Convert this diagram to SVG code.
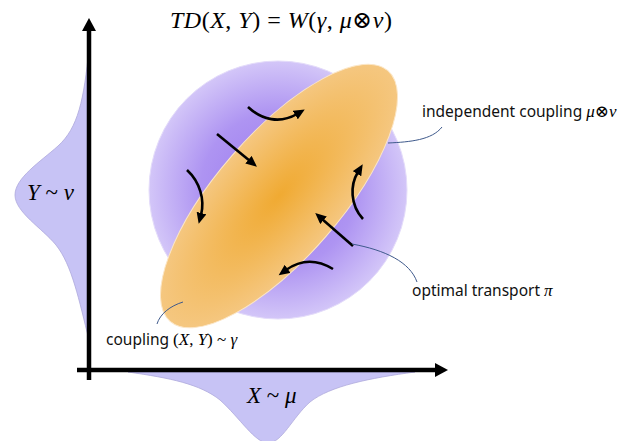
<svg xmlns="http://www.w3.org/2000/svg" width="630" height="441" viewBox="0 0 630 441">
<defs>
<radialGradient id="gPurple" cx="0.5" cy="0.5" r="0.5">
<stop offset="0" stop-color="#9A78EE"/>
<stop offset="0.6" stop-color="#AE94F2"/>
<stop offset="1" stop-color="#D3C6F8"/>
</radialGradient>
<radialGradient id="gOrange" cx="0.5" cy="0.5" r="0.5">
<stop offset="0" stop-color="#F0AA32"/>
<stop offset="1" stop-color="#F5C780"/>
</radialGradient>
<marker id="ah" markerUnits="userSpaceOnUse" markerWidth="12" markerHeight="10" refX="2" refY="5" orient="auto">
<path d="M0,0 L11,5 L0,10 z" fill="#000"/>
</marker>
<marker id="axh" markerUnits="userSpaceOnUse" markerWidth="14" markerHeight="14" refX="1" refY="7" orient="auto">
<path d="M0,0 L13,7 L0,14 z" fill="#000"/>
</marker>
</defs>
<style>
.dist{fill:#C7C3F5;stroke:#AFA9DC;stroke-width:0.8}
.axis{stroke:#000;stroke-width:4.5;fill:none}
.arr{stroke:#000;stroke-width:2.6;fill:none;marker-end:url(#ah)}
.lead{stroke:#3F5A8C;stroke-width:1;fill:none}
.lbl{font-family:"Noto Sans","Liberation Sans",sans-serif;font-size:15.5px;fill:#111}
.math{font-family:"Liberation Serif","DejaVu Serif",serif;fill:#000}
.it{font-style:italic}
</style>
<g id="dist-y"><path class="dist" d="M89,48 C84,100 78,128 58,146 C40,162 15,178 15,195 C15,212 42,228 56,245 C72,265 79,300 89,340 Z"/></g>
<g id="dist-x"><path class="dist" d="M128,372 C170,378 200,384 220,400 C240,418 255,443 268,443 C282,443 292,418 310,402 C330,386 370,378 415,372 Z"/></g>
<g id="independent"><circle cx="278" cy="190" r="129" fill="url(#gPurple)" stroke="#E4DCFA" stroke-width="1"/></g>
<g id="coupling"><ellipse cx="279" cy="196" rx="166" ry="62" transform="rotate(-49 279 196)" fill="url(#gOrange)" stroke="#FBE6C6" stroke-width="1"/></g>
<g id="axes">
<line class="axis" x1="89" y1="380" x2="89" y2="30" marker-end="url(#axh)"/>
<line class="axis" x1="77" y1="370" x2="436" y2="370" marker-end="url(#axh)"/>
</g>
<g id="connectors">
<path class="arr" d="M248,107 C262,120 280,124 297,114"/>
<path class="arr" d="M217,134 L250,161"/>
<path class="arr" d="M187,170 C200,182 205,200 201,215"/>
<path class="arr" d="M363,219 C350,205 350,185 358,172"/>
<path class="arr" d="M353,246 L322,219"/>
<path class="arr" d="M333,269 C315,258 300,260 286,270"/>
<path class="lead" d="M388,143 C410,142 432,140 442,127"/>
<path class="lead" d="M352,244 C385,250 410,262 417,282"/>
<path class="lead" d="M183,302 C170,306 160,314 157,324"/>
</g>
<g id="title"><text class="math" x="170" y="28" font-size="24" textLength="222" lengthAdjust="spacing"><tspan class="it">TD</tspan>(<tspan class="it">X</tspan>, <tspan class="it">Y</tspan>) = <tspan class="it">W</tspan>(<tspan class="it">γ</tspan>, <tspan class="it">μ</tspan>⊗<tspan class="it">ν</tspan>)</text></g>
<g id="label-y"><text class="math" x="27" y="200" font-size="23"><tspan class="it">Y</tspan> ~ <tspan class="it">ν</tspan></text></g>
<g id="label-x"><text class="math" x="247" y="403" font-size="23"><tspan class="it">X</tspan> ~ <tspan class="it">μ</tspan></text></g>
<g id="label-independent"><text class="lbl" x="422" y="117">independent coupling <tspan class="math it" font-size="17">μ</tspan><tspan class="math" font-size="17">⊗</tspan><tspan class="math it" font-size="17">ν</tspan></text></g>
<g id="label-ot"><text class="lbl" x="412" y="296">optimal transport <tspan class="math it" font-size="17">π</tspan></text></g>
<g id="label-coupling"><text class="lbl" x="106" y="345">coupling <tspan class="math" font-size="17">(<tspan class="it">X</tspan>, <tspan class="it">Y</tspan>) ~ <tspan class="it">γ</tspan></tspan></text></g>
</svg>
